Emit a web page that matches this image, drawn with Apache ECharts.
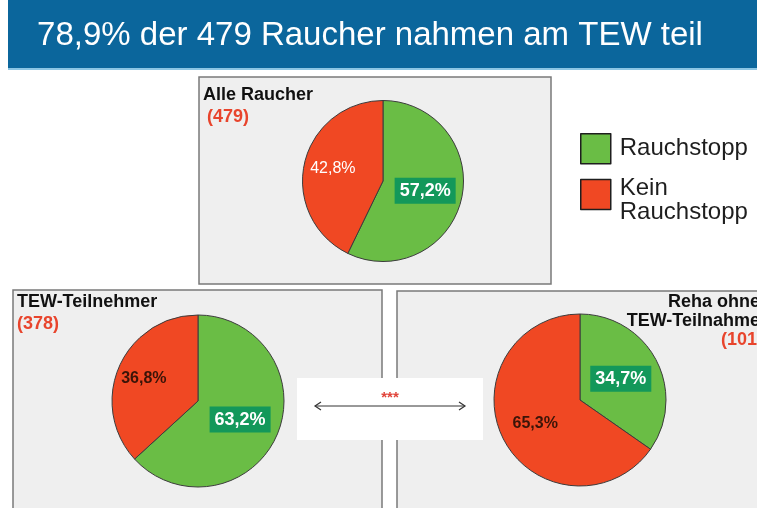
<!DOCTYPE html>
<html><head><meta charset="utf-8">
<script src="https://cdn.jsdelivr.net/npm/echarts@6/dist/echarts.min.js"></script>
<style>html,body{margin:0;padding:0;background:#fff}#c{width:757px;height:508px}</style>
</head><body><div id="c"></div>
<script>
const sliceNames = ['Rauchstopp', 'Kein Rauchstopp'];
const alleRaucher = [57.2, 42.8];
const tewTeilnehmer = [63.2, 36.8];
const rehaOhneTew = [34.7, 65.3];
const groupCounts = [479, 378, 101];
const chartTitle = '78,9% der 479 Raucher nahmen am TEW teil';

const FONT = '"Liberation Sans", Arial, sans-serif';
const GREEN = '#6abd45', RED = '#f04823', LBOX = '#13985a';
const fmt = v => v.toFixed(1).replace('.', ',') + '%';

function pieSeries(name, vals, center, r, redColor, redOffset) {
  return {
    type: 'pie', name, center, radius: r, startAngle: 90, clockwise: true,
    animation: false, silent: true,
    itemStyle: { borderColor: '#3c3c3c', borderWidth: 1 },
    labelLine: { show: false },
    data: vals.map((v, i) => ({
      name: sliceNames[i], value: v,
      itemStyle: { color: i === 0 ? GREEN : RED },
      label: i === 0 ? {
        show: true, position: 'inside', formatter: p => fmt(p.value),
        color: '#fff', fontWeight: 'bold', fontSize: 18, fontFamily: FONT,
        backgroundColor: LBOX, padding: [5, 5, 3, 5]
      } : {
        show: true, position: 'inside', formatter: p => fmt(p.value),
        color: redColor, fontWeight: redColor === '#fff' ? 'normal' : 'bold',
        fontSize: 16, fontFamily: FONT, offset: redOffset
      }
    }))
  };
}

const chart = echarts.init(document.getElementById('c'), null, { renderer: 'canvas' });
chart.setOption({
  animation: false,
  backgroundColor: '#ffffff',
  legend: {
    orient: 'vertical', left: 575, top: 128, itemWidth: 30, itemHeight: 30, itemGap: 0,
    icon: 'rect', selectedMode: false,
    itemStyle: { borderColor: '#1e1e1e', borderWidth: 1.5 },
    data: sliceNames,
    formatter: n => n === 'Kein Rauchstopp' ? '{b|Kein\nRauchstopp}' : '{a|' + n + '}',
    textStyle: {
      fontFamily: FONT, fontSize: 24, color: '#1e1e1e',
      rich: {
        a: { fontFamily: FONT, fontSize: 24, color: '#1e1e1e', lineHeight: 26, padding: [0, 0, 0, 4] },
        b: { fontFamily: FONT, fontSize: 24, color: '#1e1e1e', lineHeight: 24, padding: [12, 0, 0, 4] }
      }
    }
  },
  graphic: [
    { type: 'rect', z: -10, shape: { x: 8, y: 0, width: 760, height: 68 }, style: { fill: '#0b669c' } },
    { type: 'rect', z: -10, shape: { x: 8, y: 68, width: 760, height: 2 }, style: { fill: '#8cc6e4' } },
    { type: 'text', x: 370, y: 36, style: { text: chartTitle, fill: '#fff', font: '33px ' + FONT, textAlign: 'center', textVerticalAlign: 'middle' } },
    // boxes
    { type: 'rect', z: -10, shape: { x: 199, y: 77, width: 352, height: 207 }, style: { fill: '#efefef', stroke: '#7a7a7a', lineWidth: 1.5 } },
    { type: 'rect', z: -10, shape: { x: 13, y: 290, width: 369, height: 240 }, style: { fill: '#efefef', stroke: '#7a7a7a', lineWidth: 1.5 } },
    { type: 'rect', z: -10, shape: { x: 397, y: 291, width: 380, height: 240 }, style: { fill: '#efefef', stroke: '#7a7a7a', lineWidth: 1.5 } },
    // box titles
    { type: 'text', x: 203, y: 86, style: { text: 'Alle Raucher', fill: '#111', font: 'bold 18px ' + FONT } },
    { type: 'text', x: 207, y: 108, style: { text: '(' + groupCounts[0] + ')', fill: '#e8442c', font: 'bold 18px ' + FONT } },
    { type: 'text', x: 17, y: 293, style: { text: 'TEW-Teilnehmer', fill: '#111', font: 'bold 18px ' + FONT } },
    { type: 'text', x: 17, y: 315, style: { text: '(' + groupCounts[1] + ')', fill: '#e8442c', font: 'bold 18px ' + FONT } },
    { type: 'text', x: 760, y: 293, style: { text: 'Reha ohne\nTEW-Teilnahme', fill: '#111', font: 'bold 18px ' + FONT, textAlign: 'right', lineHeight: 19 } },
    { type: 'text', x: 763, y: 331, style: { text: '(' + groupCounts[2] + ')', fill: '#e8442c', font: 'bold 18px ' + FONT, textAlign: 'right' } },
    // middle comparison box
    { type: 'rect', z: 5, shape: { x: 297, y: 378, width: 186, height: 62 }, style: { fill: '#ffffff' } },
    { type: 'line', z: 6, shape: { x1: 315, y1: 406, x2: 465, y2: 406 }, style: { stroke: '#333', lineWidth: 1 } },
    { type: 'polyline', z: 6, shape: { points: [[321, 402], [315, 406], [321, 410]] }, style: { stroke: '#333', lineWidth: 1.2, fill: null } },
    { type: 'polyline', z: 6, shape: { points: [[459, 402], [465, 406], [459, 410]] }, style: { stroke: '#333', lineWidth: 1.2, fill: null } },
    { type: 'text', z: 6, x: 390, y: 398, style: { text: '***', fill: '#e0443a', font: 'bold 15px ' + FONT, textAlign: 'center', textVerticalAlign: 'middle' } }
  ],
  series: [
    pieSeries('Alle Raucher', alleRaucher, [383, 181], 80.5, '#fff', [-8, -3]),
    pieSeries('TEW-Teilnehmer', tewTeilnehmer, [198, 401], 86, '#3a1408', [-12, -4]),
    pieSeries('Reha ohne TEW-Teilnehmer', rehaOhneTew, [580, 400], 86, '#3a1408', [-4, 2])
  ]
});
</script></body></html>
